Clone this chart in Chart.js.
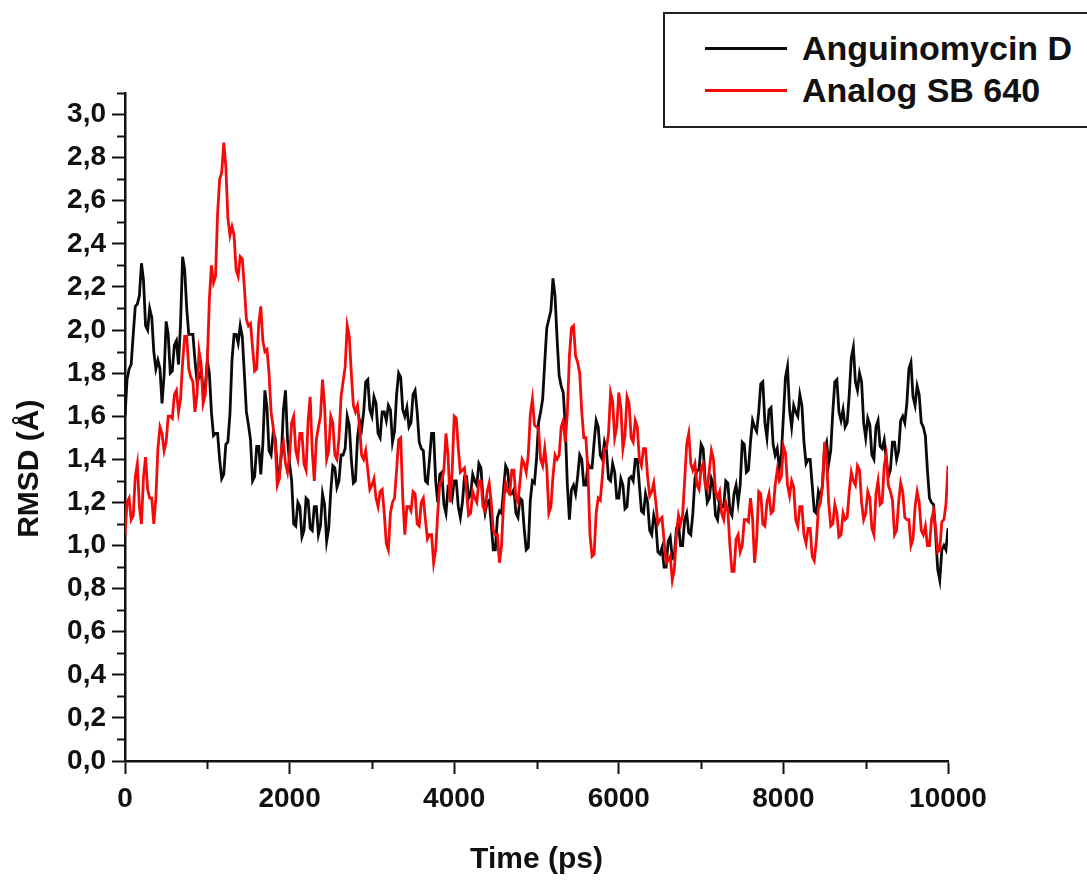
<!DOCTYPE html>
<html>
<head>
<meta charset="utf-8">
<script src="https://cdn.jsdelivr.net/npm/chart.js@4.4.1/dist/chart.umd.min.js"></script>
<style>
    html, body { margin: 0; padding: 0; background: #fff; overflow: hidden; }
    #wrap { position: relative; width: 1087px; height: 881px; }
    #legend {
        position: absolute; left: 663px; top: 12px; width: 460px; height: 116px;
        box-sizing: border-box; border: 2px solid #222; background: #fff;
        padding-top: 13px;
        font-family: "Liberation Sans", Arial, sans-serif; font-weight: bold; font-size: 34px; color: #111;
    }
    .item { display: flex; align-items: center; height: 42px; }
    .swatch { display: inline-block; width: 82px; height: 3px; margin-left: 40px; margin-right: 15px; }
</style>
</head>
<body>
<div id="wrap">
    <canvas id="myChart" width="1087" height="881"></canvas>
    <div id="legend"></div>
</div>
<script>
// tiempo en ps, cada 25 ps
const timePs = Array.from({ length: 401 }, (_, i) => i * 25);

const seriesNames = ['Anguinomycin D', 'Analog SB 640'];
const seriesColors = ['#0a0a0a', '#f50a0a'];

// RMSD (Å), 20 valores por fila = 500 ps
const anguinomycinD = [
    1.60, 1.77, 1.82, 1.84, 1.98, 2.11, 2.12, 2.16, 2.31, 2.23, 2.02, 2.00, 2.10, 2.06, 1.90, 1.82, 1.86, 1.82, 1.66, 1.79,
    2.04, 1.98, 1.80, 1.81, 1.93, 1.95, 1.84, 2.03, 2.34, 2.28, 2.10, 1.98, 1.98, 1.98, 1.86, 1.76, 1.78, 1.81, 1.72, 1.73,
    1.86, 1.80, 1.62, 1.51, 1.52, 1.52, 1.40, 1.31, 1.33, 1.47, 1.48, 1.61, 1.86, 1.98, 1.98, 1.94, 2.02, 1.97, 1.80, 1.62,
    1.56, 1.49, 1.30, 1.32, 1.46, 1.46, 1.33, 1.47, 1.72, 1.64, 1.44, 1.42, 1.52, 1.50, 1.36, 1.33, 1.42, 1.63, 1.72, 1.49,
    1.38, 1.30, 1.10, 1.09, 1.20, 1.18, 1.04, 1.07, 1.22, 1.21, 1.08, 1.07, 1.18, 1.18, 1.05, 1.09, 1.24, 1.19, 1.02, 1.08,
    1.25, 1.37, 1.36, 1.27, 1.30, 1.42, 1.42, 1.45, 1.60, 1.56, 1.40, 1.29, 1.30, 1.50, 1.58, 1.54, 1.62, 1.76, 1.77, 1.63,
    1.60, 1.69, 1.66, 1.52, 1.50, 1.62, 1.62, 1.58, 1.65, 1.63, 1.48, 1.53, 1.70, 1.80, 1.78, 1.63, 1.60, 1.64, 1.55, 1.57,
    1.70, 1.72, 1.62, 1.48, 1.45, 1.44, 1.30, 1.29, 1.40, 1.52, 1.52, 1.30, 1.20, 1.33, 1.34, 1.19, 1.15, 1.27, 1.26, 1.22,
    1.30, 1.30, 1.18, 1.13, 1.20, 1.32, 1.32, 1.22, 1.24, 1.33, 1.30, 1.28, 1.38, 1.36, 1.22, 1.15, 1.20, 1.21, 1.10, 0.98,
    0.98, 1.13, 1.16, 1.15, 1.26, 1.37, 1.35, 1.24, 1.24, 1.26, 1.15, 1.13, 1.22, 1.21, 1.08, 0.98, 0.99, 1.21, 1.30, 1.29,
    1.40, 1.57, 1.62, 1.68, 1.85, 2.01, 2.05, 2.09, 2.24, 2.16, 1.96, 1.79, 1.74, 1.71, 1.55, 1.28, 1.12, 1.26, 1.28, 1.24,
    1.32, 1.42, 1.40, 1.28, 1.28, 1.38, 1.36, 1.36, 1.48, 1.58, 1.55, 1.42, 1.40, 1.48, 1.44, 1.31, 1.30, 1.38, 1.34, 1.22,
    1.22, 1.31, 1.28, 1.17, 1.18, 1.31, 1.32, 1.30, 1.40, 1.40, 1.28, 1.16, 1.15, 1.24, 1.20, 1.07, 1.05, 1.14, 1.10, 0.97,
    0.96, 0.99, 0.90, 0.90, 1.02, 1.04, 0.94, 0.95, 1.08, 1.10, 1.00, 1.00, 1.12, 1.15, 1.06, 1.05, 1.15, 1.31, 1.35, 1.35,
    1.47, 1.45, 1.30, 1.20, 1.22, 1.31, 1.28, 1.14, 1.12, 1.21, 1.18, 1.18, 1.30, 1.29, 1.16, 1.14, 1.24, 1.28, 1.20, 1.28,
    1.48, 1.47, 1.34, 1.35, 1.48, 1.58, 1.55, 1.53, 1.62, 1.75, 1.76, 1.57, 1.50, 1.63, 1.64, 1.47, 1.42, 1.45, 1.36, 1.42,
    1.60, 1.78, 1.83, 1.63, 1.55, 1.65, 1.62, 1.60, 1.70, 1.65, 1.48, 1.38, 1.40, 1.40, 1.28, 1.16, 1.15, 1.25, 1.22, 1.28,
    1.45, 1.48, 1.38, 1.44, 1.62, 1.76, 1.77, 1.62, 1.58, 1.63, 1.55, 1.57, 1.70, 1.87, 1.92, 1.76, 1.72, 1.80, 1.76, 1.57,
    1.50, 1.59, 1.56, 1.42, 1.40, 1.55, 1.58, 1.46, 1.45, 1.49, 1.40, 1.32, 1.35, 1.48, 1.48, 1.40, 1.44, 1.58, 1.60, 1.57,
    1.66, 1.82, 1.85, 1.69, 1.65, 1.74, 1.70, 1.57, 1.55, 1.51, 1.35, 1.22, 1.20, 1.19, 1.05, 0.89, 0.84, 0.98, 1.00, 0.98,
    1.08
];

const analogSB640 = [
    1.05, 1.20, 1.22, 1.12, 1.14, 1.32, 1.38, 1.18, 1.10, 1.32, 1.41, 1.26, 1.22, 1.22, 1.10, 1.22, 1.45, 1.55, 1.52, 1.44,
    1.48, 1.60, 1.60, 1.59, 1.70, 1.72, 1.62, 1.68, 1.85, 1.97, 1.97, 1.82, 1.78, 1.76, 1.62, 1.70, 1.90, 1.84, 1.66, 1.70,
    1.85, 2.14, 2.30, 2.22, 2.25, 2.54, 2.70, 2.73, 2.87, 2.76, 2.52, 2.44, 2.48, 2.44, 2.28, 2.25, 2.34, 2.33, 2.20, 2.05,
    2.02, 2.03, 1.92, 1.81, 1.82, 2.03, 2.11, 1.95, 1.90, 1.91, 1.80, 1.62, 1.55, 1.48, 1.28, 1.31, 1.45, 1.48, 1.38, 1.34,
    1.42, 1.57, 1.60, 1.44, 1.40, 1.52, 1.52, 1.38, 1.35, 1.58, 1.69, 1.44, 1.30, 1.49, 1.55, 1.60, 1.77, 1.65, 1.40, 1.44,
    1.60, 1.57, 1.42, 1.40, 1.50, 1.69, 1.76, 1.83, 2.02, 1.97, 1.80, 1.65, 1.62, 1.65, 1.55, 1.42, 1.40, 1.44, 1.35, 1.26,
    1.28, 1.31, 1.22, 1.18, 1.25, 1.26, 1.15, 1.01, 0.98, 1.15, 1.20, 1.22, 1.35, 1.49, 1.50, 1.22, 1.05, 1.18, 1.18, 1.16,
    1.25, 1.24, 1.10, 1.09, 1.20, 1.22, 1.12, 1.03, 1.05, 1.05, 0.92, 0.98, 1.15, 1.29, 1.30, 1.35, 1.52, 1.42, 1.20, 1.34,
    1.60, 1.59, 1.45, 1.34, 1.35, 1.36, 1.25, 1.14, 1.15, 1.25, 1.22, 1.20, 1.30, 1.30, 1.18, 1.16, 1.25, 1.29, 1.20, 1.07,
    1.05, 1.05, 0.92, 1.00, 1.20, 1.29, 1.25, 1.24, 1.35, 1.35, 1.22, 1.20, 1.30, 1.40, 1.38, 1.34, 1.42, 1.61, 1.68, 1.56,
    1.55, 1.54, 1.40, 1.37, 1.45, 1.36, 1.15, 1.18, 1.32, 1.42, 1.40, 1.42, 1.55, 1.58, 1.48, 1.62, 1.88, 2.01, 2.02, 1.88,
    1.85, 1.80, 1.62, 1.50, 1.50, 1.34, 1.05, 0.95, 0.96, 1.15, 1.22, 1.21, 1.32, 1.45, 1.45, 1.52, 1.71, 1.67, 1.50, 1.55,
    1.71, 1.64, 1.45, 1.51, 1.69, 1.66, 1.50, 1.48, 1.58, 1.55, 1.40, 1.37, 1.45, 1.45, 1.32, 1.23, 1.25, 1.29, 1.20, 1.10,
    1.12, 1.13, 1.02, 0.92, 0.93, 0.95, 0.84, 0.89, 1.05, 1.14, 1.10, 1.14, 1.30, 1.47, 1.52, 1.38, 1.35, 1.38, 1.28, 1.26,
    1.36, 1.38, 1.28, 1.26, 1.35, 1.44, 1.40, 1.25, 1.22, 1.25, 1.15, 1.12, 1.20, 1.16, 1.00, 0.88, 0.88, 1.03, 1.05, 0.97,
    1.00, 1.12, 1.12, 1.11, 1.22, 1.13, 0.92, 1.03, 1.25, 1.24, 1.10, 1.09, 1.20, 1.24, 1.15, 1.16, 1.28, 1.35, 1.30, 1.32,
    1.46, 1.43, 1.28, 1.23, 1.30, 1.27, 1.12, 1.09, 1.18, 1.18, 1.05, 1.01, 1.08, 1.08, 0.95, 0.93, 1.02, 1.17, 1.20, 1.28,
    1.48, 1.40, 1.20, 1.09, 1.10, 1.19, 1.15, 1.04, 1.05, 1.15, 1.12, 1.13, 1.25, 1.34, 1.30, 1.28, 1.37, 1.35, 1.20, 1.12,
    1.15, 1.25, 1.22, 1.08, 1.05, 1.24, 1.30, 1.19, 1.20, 1.37, 1.42, 1.28, 1.25, 1.21, 1.05, 1.07, 1.20, 1.29, 1.25, 1.13,
    1.12, 1.12, 1.00, 1.03, 1.18, 1.25, 1.20, 1.07, 1.05, 1.09, 1.00, 1.00, 1.12, 1.16, 1.08, 0.97, 0.98, 1.11, 1.12, 1.19,
    1.37
];

const xTicks = [0, 2000, 4000, 6000, 8000, 10000];
const yTicks = [0, 0.2, 0.4, 0.6, 0.8, 1.0, 1.2, 1.4, 1.6, 1.8, 2.0, 2.2, 2.4, 2.6, 2.8, 3.0];

const FONT = '"Liberation Sans", Arial, sans-serif';

// marcas menores entre las principales
const minorTicks = {
    id: 'minorTicks',
    afterDraw(chart) {
        const ctx = chart.ctx;
        const xs = chart.scales.x, ys = chart.scales.y;
        ctx.save();
        ctx.strokeStyle = '#111';
        ctx.lineWidth = 2;
        for (let i = 0; i < xTicks.length - 1; i++) {
            const px = Math.round(xs.getPixelForValue((xTicks[i] + xTicks[i + 1]) / 2)) + 0.5;
            ctx.beginPath();
            ctx.moveTo(px, chart.chartArea.bottom);
            ctx.lineTo(px, chart.chartArea.bottom + 8);
            ctx.stroke();
        }
        for (let i = 0; i < yTicks.length; i++) {
            const v = yTicks[i] + 0.1;
            if (v > ys.max + 1e-6) break;
            const py = Math.round(ys.getPixelForValue(v)) + 0.5;
            ctx.beginPath();
            ctx.moveTo(chart.chartArea.left, py);
            ctx.lineTo(chart.chartArea.left - 8, py);
            ctx.stroke();
        }
        ctx.restore();
    }
};

const ctx = document.getElementById('myChart').getContext('2d');

const myChart = new Chart(ctx, {
    type: 'line',
    data: {
        datasets: [
            {
                label: seriesNames[0],
                data: anguinomycinD.map((v, i) => ({ x: timePs[i], y: v })),
                borderColor: seriesColors[0],
                borderWidth: 2.8,
                pointRadius: 0,
                fill: false,
                tension: 0,
                order: 1
            },
            {
                label: seriesNames[1],
                data: analogSB640.map((v, i) => ({ x: timePs[i], y: v })),
                borderColor: seriesColors[1],
                borderWidth: 2.8,
                pointRadius: 0,
                fill: false,
                tension: 0,
                order: 0
            }
        ]
    },
    options: {
        responsive: false,
        devicePixelRatio: 1,
        animation: false,
        layout: { padding: { left: 0, right: 139, top: 93, bottom: 0 } },
        plugins: {
            legend: { display: false },
            tooltip: { enabled: false }
        },
        scales: {
            x: {
                type: 'linear',
                position: 'bottom',
                min: 0,
                max: 10000,
                afterFit: (scale) => { scale.height = 120; },
                afterBuildTicks: (scale) => { scale.ticks = xTicks.map(v => ({ value: v })); },
                ticks: {
                    color: '#111',
                    padding: 8,
                    font: { family: FONT, size: 28, weight: 'bold' },
                    callback: (v) => String(v)
                },
                grid: {
                    drawOnChartArea: false,
                    drawTicks: true,
                    tickLength: 13,
                    tickWidth: 2,
                    tickColor: '#111'
                },
                border: { display: true, color: '#111', width: 2.5 },
                title: {
                    display: true,
                    text: 'Time (ps)',
                    color: '#111',
                    padding: { top: 0, bottom: 3 },
                    font: { family: FONT, size: 30, weight: 'bold' }
                }
            },
            y: {
                type: 'linear',
                min: 0,
                max: 3.1,
                afterFit: (scale) => { scale.width = 125; },
                afterBuildTicks: (scale) => { scale.ticks = yTicks.map(v => ({ value: v })); },
                ticks: {
                    color: '#111',
                    padding: 6,
                    font: { family: FONT, size: 28, weight: 'bold' },
                    callback: (v) => v.toFixed(1).replace('.', ',')
                },
                grid: {
                    drawOnChartArea: false,
                    drawTicks: true,
                    tickLength: 13,
                    tickWidth: 2,
                    tickColor: '#111'
                },
                border: { display: true, color: '#111', width: 2.5 },
                title: {
                    display: true,
                    text: 'RMSD (Å)' + '          ',
                    color: '#111',
                    padding: { top: 12, bottom: 0 },
                    font: { family: FONT, size: 30, weight: 'bold' }
                }
            }
        }
    },
    plugins: [minorTicks]
});

// leyenda en HTML con recuadro
const legendEl = document.getElementById('legend');
myChart.data.datasets.forEach((ds) => {
    const row = document.createElement('div');
    row.className = 'item';
    const sw = document.createElement('span');
    sw.className = 'swatch';
    sw.style.background = ds.borderColor;
    const txt = document.createElement('span');
    txt.textContent = ds.label;
    row.appendChild(sw);
    row.appendChild(txt);
    legendEl.appendChild(row);
});
</script>
</body>
</html>
